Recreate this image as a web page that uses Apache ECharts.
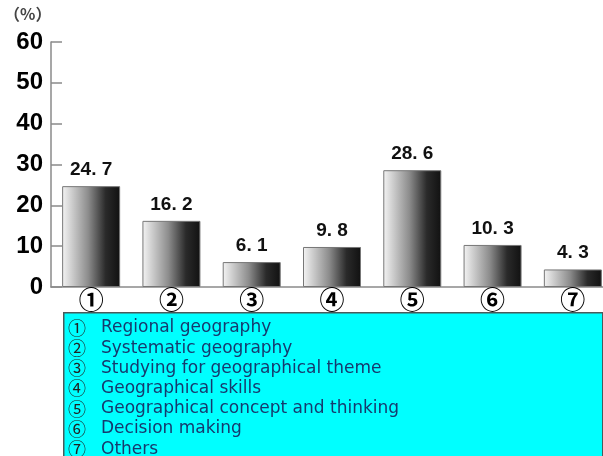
<!DOCTYPE html>
<html>
<head>
<meta charset="utf-8">
<script src="https://cdn.jsdelivr.net/npm/echarts@6/dist/echarts.min.js"></script>
<style>
html, body { margin: 0; padding: 0; background: #fff; }
#main { width: 603px; height: 456px; }
</style>
</head>
<body>
<div id="main"></div>
<script>
// categories (circled numbers) and their meaning
var categories = ['①', '②', '③', '④', '⑤', '⑥', '⑦'];
var values = [24.7, 16.2, 6.1, 9.8, 28.6, 10.3, 4.3];
var legendNames = [
	'Regional geography',
	'Systematic geography',
	'Studying for geographical theme',
	'Geographical skills',
	'Geographical concept and thinking',
	'Decision making',
	'Others'
];
var yTicks = [0, 10, 20, 30, 40, 50, 60];

var chart = echarts.init(document.getElementById('main'));

// legend box text lines
var legendText = legendNames.map(function(name, i) {
	return '{n|' + categories[i] + '}{t|' + name + '}';
}).join('\n');

var option = {
	animation: false,
	grid: {
		left: 51,
		right: -10,
		top: 42,
		bottom: 169,
		outerBoundsMode: 'none',
		containLabel: false
	},
	xAxis: {
		type: 'category',
		data: categories,
		axisLine: { lineStyle: { color: '#8a8a8a', width: 1.5 } },
		axisTick: { show: false },
		axisLabel: {
			color: '#000',
			fontSize: 25,
			fontWeight: 'bold',
			fontFamily: 'Noto Sans CJK JP',
			margin: 0
		}
	},
	yAxis: {
		type: 'value',
		min: yTicks[0],
		max: yTicks[yTicks.length - 1],
		interval: 10,
		axisLine: { show: true, lineStyle: { color: '#8a8a8a', width: 1.5 } },
		axisTick: { show: true, inside: true, length: 11, lineStyle: { color: '#8a8a8a', width: 1.5 } },
		splitLine: { show: false },
		axisLabel: {
			color: '#000',
			fontSize: 24,
			fontWeight: 'bold',
			fontFamily: 'Liberation Sans',
			margin: 8
		}
	},
	graphic: [
		{
			type: 'text',
			left: 4,
			top: 6,
			style: {
				text: '（%）',
				fill: '#444',
				font: 'bold 16px "Noto Sans CJK JP"'
			}
		},
		{
			type: 'rect',
			left: 63,
			top: 312,
			z: 10,
			shape: { width: 539, height: 150 },
			style: { fill: '#00ffff', stroke: '#4a5a5a', lineWidth: 1.5 }
		},
		{
			type: 'text',
			left: 68,
			top: 319,
			z: 11,
			style: {
				text: legendText,
				rich: {
					n: { fontSize: 18, fill: '#222', width: 33, lineHeight: 20.2, fontFamily: 'Noto Sans CJK JP' },
					t: { fontSize: 17, fill: '#163a6e', lineHeight: 20.2, fontFamily: 'DejaVu Sans' }
				}
			}
		}
	],
	series: [{
		type: 'bar',
		data: values,
		barWidth: 58,
		itemStyle: {
			color: new echarts.graphic.LinearGradient(0, 0, 1, 0, [
				{ offset: 0, color: '#f4f4f4' },
				{ offset: 0.45, color: '#8c8c8c' },
				{ offset: 0.75, color: '#2a2a2a' },
				{ offset: 1, color: '#111' }
			]),
			borderColor: '#777',
			borderWidth: 1
		},
		label: {
			show: true,
			position: 'top',
			distance: 7,
			color: '#111',
			fontSize: 19,
			fontWeight: 'bold',
			fontFamily: 'Liberation Sans',
			formatter: function(d) {
				return String(d.value.toFixed(1)).replace('.', '. ');
			}
		}
	}]
};

chart.setOption(option);
</script>
</body>
</html>
